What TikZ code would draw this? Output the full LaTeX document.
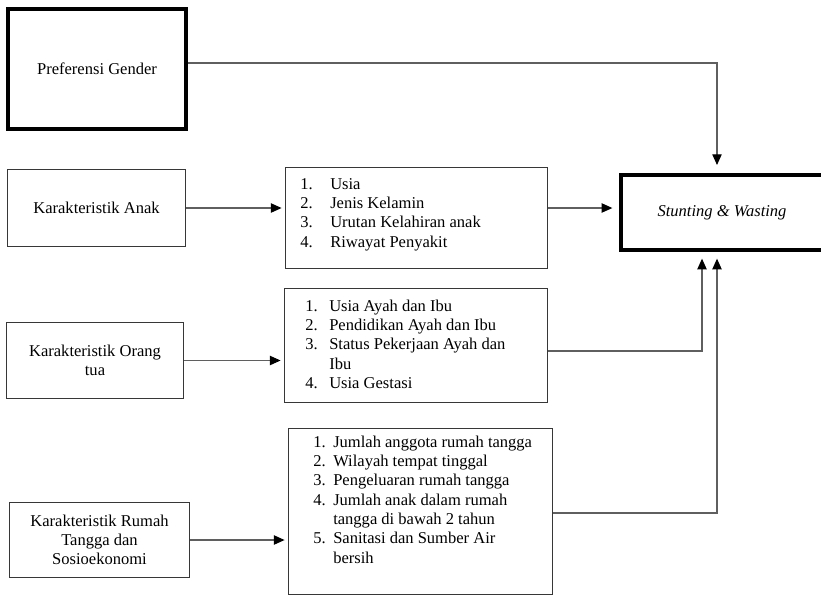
\documentclass[tikz,border=0pt]{standalone}
\usepackage{fontspec}
\setmainfont{Liberation Serif}
\usepackage{array}
\usetikzlibrary{arrows.meta}
\definecolor{boxgray}{RGB}{55,55,55}
\definecolor{linegray}{RGB}{95,95,95}
\tikzset{
  thinbox/.style={draw=boxgray, line width=0.9pt, inner sep=0pt, align=center,
    font=\fontsize{12.4}{14.5}\selectfont},
  thickbox/.style={draw=black, line width=3pt, inner sep=0pt, align=center,
    font=\fontsize{12.4}{14.5}\selectfont},
  listtext/.style={anchor=north west, inner sep=0pt, font=\fontsize{12.4}{14.5}\selectfont},
  link/.style={draw=linegray, line width=0.8pt, -{Triangle[length=8pt,width=7pt,color=black]}},
}

\begin{document}
\begin{tikzpicture}[x=0.75pt,y=-0.75pt]
\useasboundingbox (0,0) rectangle (821,597);

% boxes on the left
\node[thickbox, minimum width=178*0.75pt, minimum height=120*0.75pt] (gender) at (97,69) {\raisebox{-2.5pt}{Preferensi Gender}};
\node[thinbox, minimum width=178*0.75pt, minimum height=77*0.75pt] (anak) at (96.5,208) {Karakteristik Anak};
\node[thinbox, minimum width=177*0.75pt, minimum height=76*0.75pt] (orangtua) at (95,360.5) {Karakteristik Orang\\tua};
\node[thinbox, minimum width=180*0.75pt, minimum height=75*0.75pt] (rumah) at (99.5,540) {Karakteristik Rumah\\Tangga dan\\Sosioekonomi};

% lists
\node[thinbox, minimum width=262*0.75pt, minimum height=101*0.75pt] (list1) at (416.5,218) {};
\node[listtext] (list1txt) at (300,175.5) {%
  \begin{tabular}{@{}p{22.5pt}@{}l@{}}
  1. & Usia\\
  2. & Jenis Kelamin\\
  3. & Urutan Kelahiran anak\\
  4. & Riwayat Penyakit
  \end{tabular}};

\node[thinbox, minimum width=263*0.75pt, minimum height=114*0.75pt] (list2) at (416,345.5) {};
\node[listtext] (list2txt) at (305,297.5) {%
  \begin{tabular}{@{}p{18pt}@{}l@{}}
  1. & Usia Ayah dan Ibu\\
  2. & Pendidikan Ayah dan Ibu\\
  3. & Status Pekerjaan Ayah dan\\
     & Ibu\\
  4. & Usia Gestasi
  \end{tabular}};

\node[thinbox, minimum width=264*0.75pt, minimum height=166*0.75pt] (list3) at (420.5,511.5) {};
\node[listtext] (list3txt) at (313,433.5) {%
  \begin{tabular}{@{}p{15pt}@{}l@{}}
  1. & Jumlah anggota rumah tangga\\
  2. & Wilayah tempat tinggal\\
  3. & Pengeluaran rumah tangga\\
  4. & Jumlah anak dalam rumah\\
     & tangga di bawah 2 tahun\\
  5. & Sanitasi dan Sumber Air\\
     & bersih
  \end{tabular}};

% outcome
\node[thickbox, minimum width=220*0.75pt, minimum height=75*0.75pt, anchor=west] (stunting) at (619,212.5) {\hspace*{-13.5pt}\textit{Stunting \& Wasting}};

% connectors
\draw[link, shorten >=6pt] ([yshift=4.5pt]gender.east) -| ([xshift=73.5pt]stunting.north west);
\draw[link, shorten >=2.5pt] (anak.east) -- (anak.east -| list1.west);
\draw[link, shorten >=5pt] (list1.east |- anak.east) -- (stunting.west |- anak.east);
\draw[link, shorten >=2.5pt] (orangtua.east) -- (orangtua.east -| list2.west);
\draw[link, shorten >=5pt] ([yshift=-4.1pt]list2.east) -| ([xshift=62.25pt]stunting.south west);
\draw[link, shorten >=2.5pt] (rumah.east) -- (rumah.east -| list3.west);
\draw[link, shorten >=5pt] ([yshift=-1.1pt]list3.east) -| ([xshift=73.5pt]stunting.south west);
\end{tikzpicture}
\end{document}
